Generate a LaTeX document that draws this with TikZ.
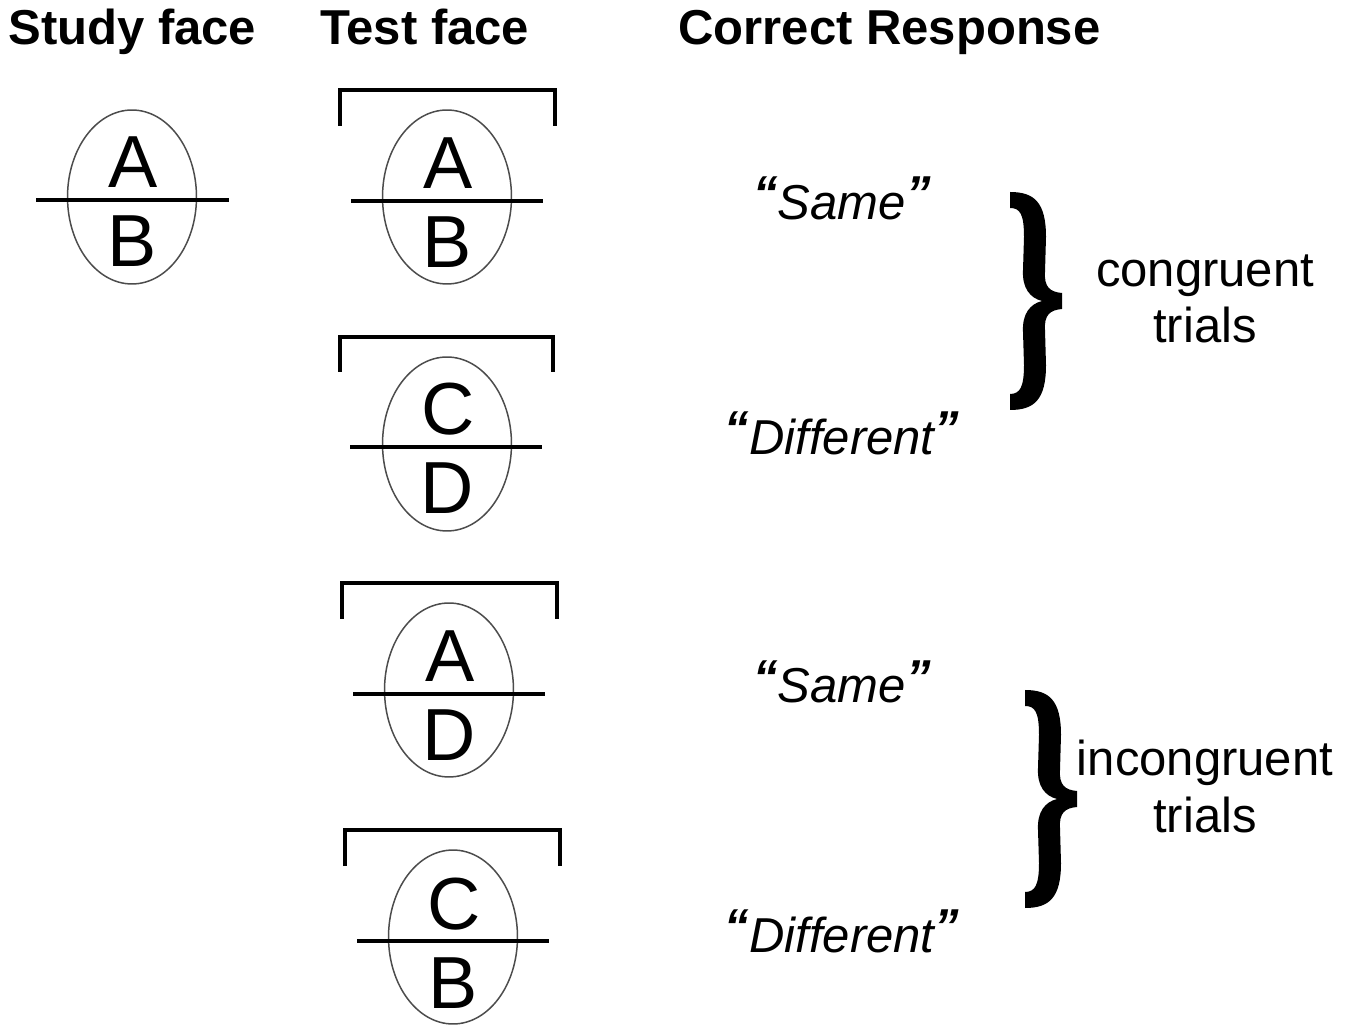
\documentclass[tikz,border=0pt]{standalone}
\usepackage{fontspec}
\setmainfont{Liberation Sans}
\newcommand\drawface[8]{% #1 name, #2 cx, #3 cy, #4 liney, #5 x1, #6 x2, #7 top, #8 bottom
  \draw[face] (#2,#3) ellipse [x radius=1.29cm, y radius=1.74cm];
  \draw[bar] (#5,#4) -- (#6,#4);
  \node[letter] (#1top) at (#2+1,#4-12) {#7};
  \node[letter] (#1bot) at (#2,#4+67) {#8};
}
\newcommand\drawbracket[4]{%
  \draw[bar, line join=miter] (#1,#4) -- (#1,#3) -- (#2,#3) -- (#2,#4);
}
\newcommand\drawbrace[2]{%
  \begin{scope}[shift={(#1,#2)}]
    \fill (0,0) .. controls (24,0) and (36,10) .. (36,45) -- (35,80)
      .. controls (34,95) and (40,100) .. (52,101) -- (52,117)
      .. controls (40,118) and (34,123) .. (35,138) -- (36,173)
      .. controls (36,208) and (24,218) .. (0,218) -- (0,202)
      .. controls (10,202) and (14,195) .. (14,173) -- (13,140)
      .. controls (12,122) and (20,112) .. (32,109)
      .. controls (20,106) and (12,96) .. (13,78) -- (14,45)
      .. controls (14,22) and (10,16) .. (0,16) -- cycle;
  \end{scope}
}
\newcommand\oq{\raisebox{0.18cm}{\bfseries\itshape “}}
\newcommand\cq{\raisebox{0.18cm}{\bfseries\itshape ”}}
\begin{document}
\begin{tikzpicture}[x=0.02cm,y=-0.02cm,
  hdr/.style={font=\fontsize{27.9}{30}\selectfont\bfseries, anchor=base west, inner sep=0},
  letter/.style={font=\fontsize{42}{44}\selectfont, anchor=base, inner sep=0},
  resp/.style={font=\fontsize{27.9}{30}\selectfont\itshape, anchor=base, inner sep=0},
  lbl/.style={font=\fontsize{27.9}{30}\selectfont, anchor=base, inner sep=0},
  face/.style={draw=black!70, line width=0.85pt},
  bar/.style={line width=2.3pt}]
\useasboundingbox (0,0) rectangle (1356,1026);
% headers
\node[hdr] (h1) at (8,45) {Study face};
\node[hdr] (h2) at (320,45) {Test face};
\node[hdr] (h3) at (678,45) {Correct Response};
% study face
\drawface{s}{132}{197}{200}{36}{229}{A}{B}
% test faces
\drawbracket{340}{555}{90}{126}
\drawface{ta}{447}{197}{201}{351}{543}{A}{B}
\drawbracket{340}{553}{337}{372}
\drawface{tb}{447}{444}{447}{350}{542}{C}{D}
\drawbracket{342}{557}{583}{619}
\drawface{tc}{449}{690}{694}{353}{545}{A}{D}
\drawbracket{345}{560}{830}{866}
\drawface{td}{453}{937}{941}{357}{549}{C}{B}
% responses
\node[resp] (r1) at (842,220) {\oq Same\cq};
\node[resp] (r2) at (842,455) {\oq Different\cq};
\node[resp] (r3) at (842,703) {\oq Same\cq};
\node[resp] (r4) at (842,952) {\oq Different\cq};
% braces
\drawbrace{1010}{192}
\drawbrace{1025}{690}
% labels
\node[lbl] (c1) at (1205,287) {congruent};
\node[lbl] (c2) at (1205,343) {trials};
\node[lbl] (i1) at (1205,776) {incongruent};
\node[lbl] (i2) at (1205,832) {trials};
\end{tikzpicture}
\end{document}
